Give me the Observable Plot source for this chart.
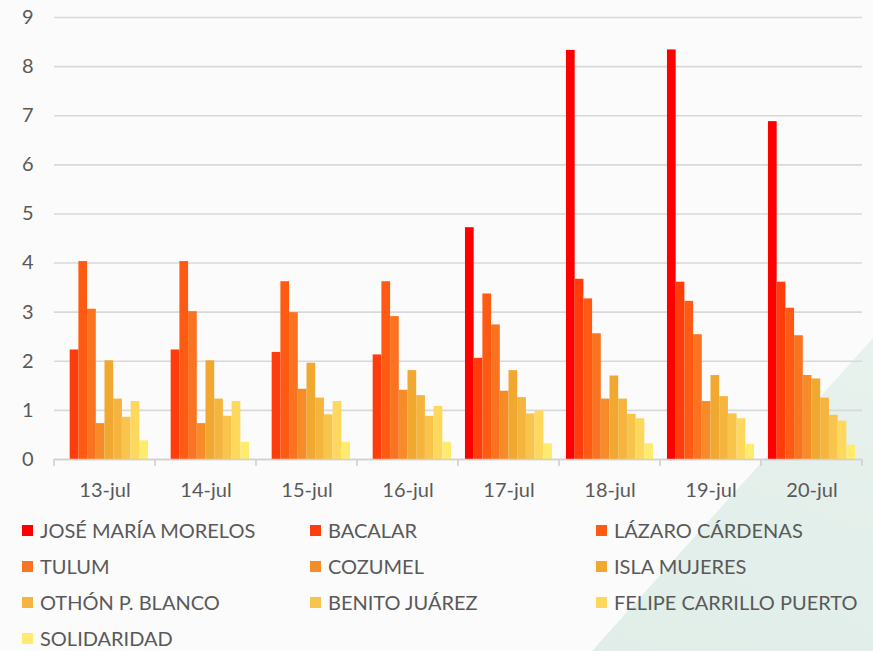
<!DOCTYPE html>
<html>
<head>
<meta charset="utf-8">
<script src="https://cdn.jsdelivr.net/npm/d3@7"></script>
<script src="https://cdn.jsdelivr.net/npm/@observablehq/plot@0.6"></script>
<style>
  html, body { margin: 0; padding: 0; background: #fbfbfb; }
  #wrap { position: relative; width: 873px; height: 651px; overflow: hidden; font-family: Lato, "Open Sans", sans-serif; }
  #bg { position: absolute; left: 0; top: 0; width: 873px; height: 651px;
        background: linear-gradient(200deg, #eef5f2 0%, #e3efea 60%, #deece6 100%);
        clip-path: polygon(873px 338px, 873px 651px, 592px 651px); }
  #chart { position: absolute; left: 0; top: 0; }
  #legend { position: absolute; left: 22px; top: 512px; display: grid;
            grid-template-columns: 288px 286px 265px; grid-auto-rows: 36px; align-items: center;
            font-size: 20px; line-height: 22px; color: #595959; }
  .item { display: flex; align-items: center; white-space: nowrap; }
  .sw { width: 11px; height: 11px; margin-right: 7px; flex: none; }
</style>
</head>
<body>
<div id="wrap">
  <div id="bg"></div>
  <div id="chart"></div>
  <div id="legend"></div>
</div>
<script>
const dates = ["13-jul", "14-jul", "15-jul", "16-jul", "17-jul", "18-jul", "19-jul", "20-jul"];
const series = ["JOSÉ MARÍA MORELOS", "BACALAR", "LÁZARO CÁRDENAS", "TULUM", "COZUMEL", "ISLA MUJERES",
                "OTHÓN P. BLANCO", "BENITO JUÁREZ", "FELIPE CARRILLO PUERTO", "SOLIDARIDAD"];
const colors = ["#ff0000", "#ff3d0c", "#ff5a14", "#fa7320", "#f78b28", "#f0a830",
                "#f5b43e", "#f9c44c", "#fdd85c", "#ffeb6e"];
const yTicks = [0, 1, 2, 3, 4, 5, 6, 7, 8, 9];

const morelos     = [0, 0, 0, 0, 4.72, 8.33, 8.34, 6.88];
const bacalar     = [2.23, 2.23, 2.18, 2.13, 2.06, 3.67, 3.61, 3.61];
const lazaro      = [4.03, 4.03, 3.62, 3.62, 3.37, 3.27, 3.22, 3.08];
const tulum       = [3.06, 3.01, 2.99, 2.91, 2.74, 2.56, 2.54, 2.52];
const cozumel     = [0.73, 0.73, 1.43, 1.41, 1.39, 1.23, 1.18, 1.71];
const isla        = [2.01, 2.01, 1.96, 1.81, 1.81, 1.70, 1.71, 1.64];
const othon       = [1.23, 1.23, 1.25, 1.30, 1.26, 1.23, 1.28, 1.25];
const benito      = [0.86, 0.88, 0.91, 0.88, 0.93, 0.92, 0.93, 0.90];
const felipe      = [1.18, 1.18, 1.18, 1.08, 0.99, 0.83, 0.83, 0.78];
const solidaridad = [0.38, 0.35, 0.35, 0.35, 0.32, 0.32, 0.31, 0.29];

const values = [morelos, bacalar, lazaro, tulum, cozumel, isla, othon, benito, felipe, solidaridad];
const data = dates.flatMap((d, i) => series.map((s, j) => ({date: d, series: s, value: values[j][i]})));

const plot = Plot.plot({
  width: 873, height: 510,
  marginTop: 17, marginBottom: 51, marginLeft: 54, marginRight: 11,
  style: {fontFamily: "Lato, 'Open Sans', sans-serif", fontSize: "20px", color: "#595959", background: "transparent"},
  fx: {domain: dates, padding: 0, round: false, label: null},
  x: {domain: series, paddingInner: 0, paddingOuter: 0.8, round: false, axis: null},
  y: {domain: [0, 9], label: null},
  color: {domain: series, range: colors},
  marks: [
    Plot.gridY(yTicks, {stroke: "#d9d9d9", strokeOpacity: 1, strokeWidth: 1.6}),
    Plot.axisY(yTicks, {tickSize: 0, tickPadding: 21, fill: "#595959", fontSize: 20, label: null}),
    Plot.axisFx({anchor: "bottom", tickSize: 0, tickPadding: 23, fill: "#595959", fontSize: 20, label: null}),
    Plot.barY(data, {fx: "date", x: "series", y: "value", fill: "series"}),
    Plot.ruleY([0], {stroke: "#d0d0d0", strokeWidth: 1.6})
  ]
});
document.getElementById("chart").appendChild(plot);

// tick marks at the boundaries between date groups
const fx = plot.scale("fx");
const y = plot.scale("y");
const y0 = y.apply(0);
const bounds = dates.map(d => fx.apply(d)).concat([fx.apply(dates[dates.length - 1]) + fx.bandwidth]);
const svg = d3.select(plot.tagName.toLowerCase() === "svg" ? plot : plot.querySelector("svg"));
svg.append("g").selectAll("line").data(bounds).join("line")
  .attr("x1", d => d).attr("x2", d => d)
  .attr("y1", y0).attr("y2", y0 + 7)
  .attr("stroke", "#d0d0d0").attr("stroke-width", 1.6);

// legend
const legend = d3.select("#legend");
series.forEach((s, i) => {
  const it = legend.append("div").attr("class", "item");
  it.append("div").attr("class", "sw").style("background", colors[i]);
  it.append("span").text(s);
});
</script>
</body>
</html>
